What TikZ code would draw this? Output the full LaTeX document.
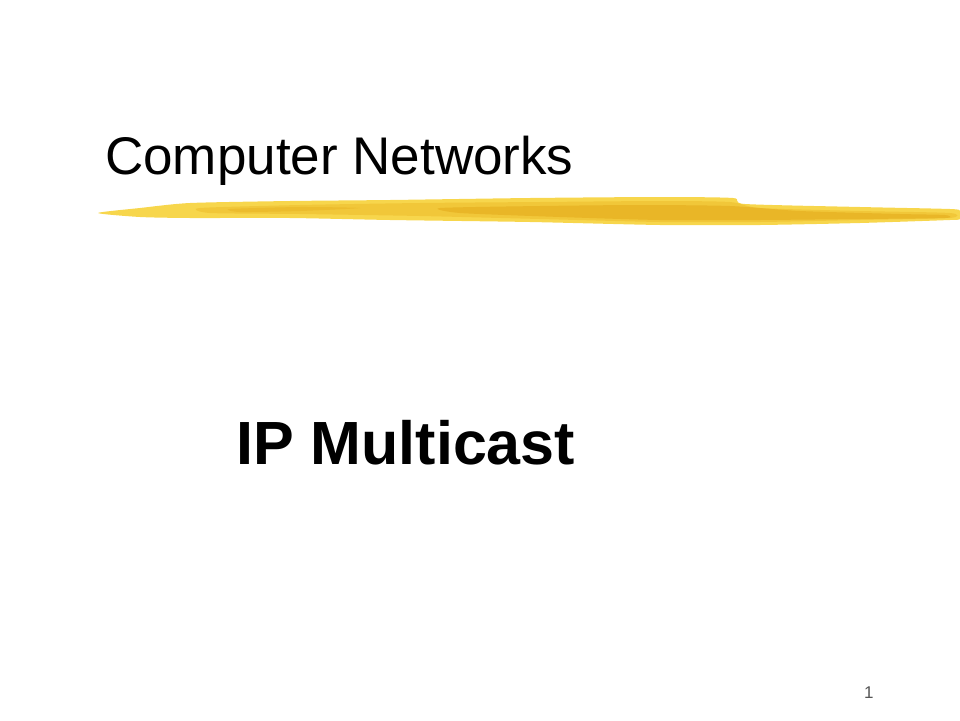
\documentclass[tikz,border=0pt]{standalone}
\usepackage{fontspec}
\setmainfont{Liberation Sans}
\definecolor{brushlight}{HTML}{F7D64C}
\definecolor{brushmid}{HTML}{F1C536}
\definecolor{brushdark}{HTML}{E6AF20}
\definecolor{pagenum}{HTML}{555555}
\tikzset{
  titletext/.style={anchor=base west, inner sep=0pt, font=\fontsize{53}{60}\selectfont},
  subtitletext/.style={anchor=base west, inner sep=0pt, font=\fontsize{61}{66}\selectfont\bfseries},
  numtext/.style={anchor=base west, inner sep=0pt, text=pagenum, font=\fontsize{17}{20}\selectfont}
}
\begin{document}
\begin{tikzpicture}[x=1pt,y=-1pt]
\useasboundingbox (0,0) rectangle (960,720);
% brush stroke
\fill[brushlight] plot[smooth cycle, tension=0.4] coordinates {
 (98,213) (140,208) (190,203) (290,201) (390,200) (530,198) (660,197) (733,198) (745,204)
 (860,207) (950,209) (960,211)
 (960,219) (950,220) (860,223) (760,225) (660,225) (530,222) (390,220) (290,218) (190,218) (140,217)};
\fill[brushmid, opacity=0.85] plot[smooth cycle, tension=0.4] coordinates {
 (200,208) (300,205) (420,203) (540,202) (660,201) (730,202) (760,208) (860,211) (950,213)
 (950,218) (860,220) (760,222) (660,222) (540,219) (420,216) (300,214) (210,213)};
\fill[brushdark, opacity=0.7] plot[smooth cycle, tension=0.4] coordinates {
 (440,208) (540,206) (640,205) (730,206) (800,211) (900,214) (945,215)
 (945,218) (860,219) (760,220) (660,220) (560,217) (460,213)};
\fill[brushdark, opacity=0.45] plot[smooth cycle, tension=0.4] coordinates {
 (230,209) (300,207) (360,208) (300,211) (240,212)};
\fill[brushlight, opacity=0.9] plot[smooth cycle, tension=0.4] coordinates {
 (100,213) (150,210) (200,211) (150,214)};
% texts
\node[titletext] (title) at (105,174) {Computer Networks};
\node[subtitletext] (sub) at (236,464) {IP Multicast};
\node[numtext] (num) at (864,698) {1};
\end{tikzpicture}
\end{document}
